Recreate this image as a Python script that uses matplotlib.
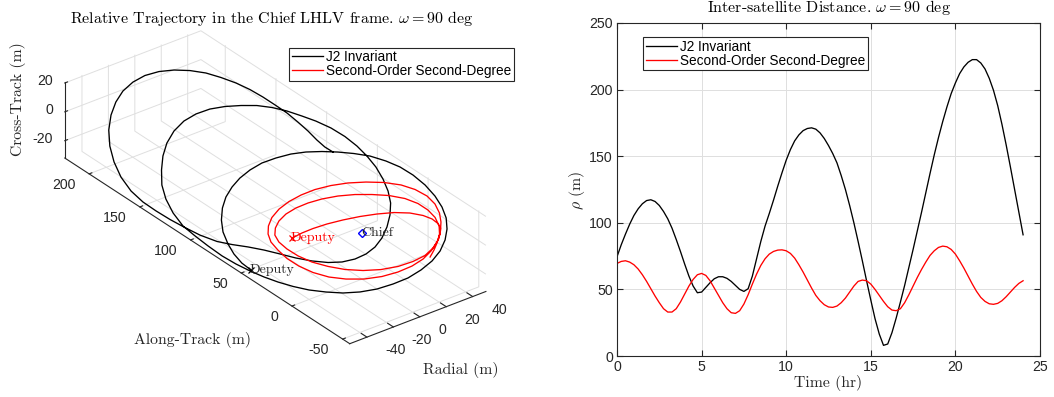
import numpy as np
import matplotlib
matplotlib.use("Agg")
import matplotlib.pyplot as plt
from mpl_toolkits.mplot3d import proj3d

# ---------------- data ----------------
# Relative trajectory (LVLH frame, metres): J2-invariant model
black_radial = [-48.6, -48.1, -46.3, -43.5, -39.4, -34.4, -28.5, -22.4, -15.9, -9.4,
                -2.6, 4.2, 10.8, 17.1, 22.6, 27.6, 32.2, 36.3, 40.0, 42.5,
                44.0, 44.2, 43.2, 41.1, 38.1, 34.3, 29.5, 23.8, 17.2, 10.2,
                2.7, -4.9, -12.2, -19.4, -25.9, -31.5, -36.1, -40.3, -43.5, -46.0,
                -47.9, -49.3, -50.3, -50.8, -50.4, -49.7, -48.7, -45.7, -41.4, -36.1,
                -29.3, -22.4, -15.2, -7.5, 0.1, 7.0, 13.5, 19.2, 24.5, 29.3,
                32.9, 35.8, 38.0, 39.9, 41.2, 41.5, 40.7, 39.1, 36.7, 33.3,
                29.3, 24.5, 18.8, 12.3, 5.7, -0.6, -6.5, -12.1, -17.4, -21.9,
                -26.0, -29.5, -32.4, -35.4, -38.8, -42.5, -45.6, -47.8, -48.9, -49.6,
                -49.9, -49.7, -48.2, -44.8, -39.9, -33.8, -26.7, -19.1, -11.6, -4.4,
                2.8, 9.4, 15.5, 20.7, 25.3, 29.0, 31.4, 33.4, 34.6, 35.0,
                35.0, 34.9, 34.0, 32.9, 31.4, 30.6, 30.7]
black_along = [46.2, 55.8, 65.9, 75.4, 85.7, 93.8, 100.5, 105.0, 107.4, 108.2,
               107.0, 104.2, 98.9, 92.4, 84.7, 75.5, 65.7, 55.3, 44.3, 31.8,
               19.8, 7.3, -5.9, -18.4, -29.2, -38.3, -45.4, -50.9, -54.6, -55.8,
               -54.7, -51.8, -46.6, -40.0, -31.8, -22.3, -11.6, -0.3, 11.2, 22.9,
               34.2, 46.1, 58.7, 71.7, 86.1, 99.8, 113.0, 126.7, 139.4, 150.3,
               159.5, 167.1, 172.6, 175.6, 175.7, 172.8, 167.6, 160.1, 151.2, 141.8,
               131.7, 120.7, 108.8, 97.5, 84.3, 70.9, 58.0, 46.1, 34.1, 22.7,
               12.5, 3.7, -3.1, -8.6, -12.2, -13.6, -12.4, -8.9, -3.0, 4.9,
               15.4, 26.7, 38.5, 50.5, 61.7, 72.8, 83.5, 97.5, 111.8, 124.6,
               138.0, 151.2, 164.9, 179.3, 192.5, 204.6, 214.9, 222.6, 227.6, 230.0,
               229.5, 226.3, 220.4, 212.4, 202.6, 191.7, 180.0, 167.7, 155.6, 143.3,
               131.3, 119.4, 107.5, 96.1, 85.4, 76.5, 68.6]
black_cross = [-29.7, -29.5, -28.5, -26.9, -24.7, -21.9, -18.7, -15.3, -11.7, -8.2,
               -4.4, -0.7, 2.9, 6.4, 9.4, 12.2, 14.7, 17.0, 19.0, 20.4,
               21.2, 21.3, 20.8, 19.6, 18.0, 15.9, 13.2, 10.1, 6.5, 2.6,
               -1.5, -5.7, -9.7, -13.7, -17.2, -20.3, -22.9, -25.2, -26.9, -28.3,
               -29.3, -30.1, -30.7, -30.9, -30.7, -30.3, -29.8, -28.1, -25.8, -22.9,
               -19.1, -15.3, -11.4, -7.1, -2.9, 0.9, 4.4, 7.6, 10.5, 13.1,
               15.1, 16.7, 17.9, 18.9, 19.7, 19.8, 19.4, 18.5, 17.2, 15.3,
               13.1, 10.5, 7.3, 3.8, 0.1, -3.3, -6.6, -9.7, -12.6, -15.0,
               -17.3, -19.2, -20.8, -22.5, -24.3, -26.4, -28.1, -29.3, -29.9, -30.3,
               -30.4, -30.3, -29.5, -27.6, -24.9, -21.6, -17.7, -13.5, -9.4, -5.4,
               -1.5, 2.2, 5.5, 8.4, 10.9, 12.9, 14.3, 15.4, 16.0, 16.3,
               16.3, 16.2, 15.7, 15.1, 14.3, 13.8, 13.9]

# Relative trajectory: second-order second-degree model
red_radial = [-21.6, -16.1, -10.7, -4.4, 2.3, 9.0, 15.3, 21.1, 25.7, 28.5,
              29.6, 29.3, 28.0, 25.1, 20.5, 14.5, 8.4, 1.8, -5.2, -12.1,
              -18.7, -24.1, -28.3, -31.0, -32.3, -32.4, -31.2, -29.6, -26.8, -23.0,
              -18.0, -11.9, -5.4, 1.2, 7.9, 14.6, 20.9, 26.8, 32.0, 36.0,
              38.1, 38.7, 37.4, 34.6, 30.9, 26.6, 22.3, 16.5, 10.6, 4.2,
              -2.6, -9.2, -15.0, -20.0, -23.7, -26.5, -27.9, -28.0, -27.2, -25.2,
              -21.8, -17.5, -12.1, -6.3, -0.4, 5.7, 11.9, 17.7, 22.8, 27.5,
              30.9, 32.5, 32.5, 31.2, 28.5, 24.9, 20.0, 15.9, 11.4]
red_along = [41.1, 38.3, 34.4, 28.8, 21.7, 13.7, 5.2, -4.0, -13.7, -23.1,
             -30.5, -36.7, -41.0, -44.3, -47.4, -49.2, -49.3, -47.0, -42.2, -35.4,
             -26.3, -15.6, -4.3, 7.9, 20.2, 31.7, 42.3, 51.2, 57.7, 62.3,
             65.4, 66.2, 64.9, 61.6, 56.8, 49.7, 41.1, 31.0, 20.0, 8.4,
             -2.7, -13.7, -23.2, -31.3, -37.6, -42.7, -46.5, -48.6, -48.3, -44.8,
             -39.0, -30.6, -20.6, -9.3, 2.5, 14.8, 26.6, 37.5, 46.5, 53.1,
             57.0, 59.1, 59.2, 56.9, 52.7, 46.9, 39.2, 30.0, 20.0, 9.2,
             -2.1, -12.8, -22.7, -31.4, -38.9, -44.0, -47.9, -50.3, -52.3]
red_cross = [-14.9, -11.9, -8.9, -5.4, -1.7, 2.0, 5.4, 8.6, 11.1, 12.7,
             13.3, 13.1, 12.4, 10.8, 8.3, 5.0, 1.6, -2.0, -5.9, -9.7,
             -13.3, -16.3, -18.6, -20.1, -20.8, -20.8, -20.2, -19.3, -17.7, -15.6,
             -12.9, -9.5, -6.0, -2.3, 1.3, 5.0, 8.5, 11.7, 14.6, 16.8,
             18.0, 18.3, 17.6, 16.0, 14.0, 11.6, 9.3, 6.1, 2.8, -0.7,
             -4.4, -8.1, -11.3, -14.0, -16.0, -17.6, -18.3, -18.4, -18.0, -16.9,
             -15.0, -12.6, -9.7, -6.5, -3.2, 0.1, 3.5, 6.7, 9.5, 12.1,
             14.0, 14.9, 14.9, 14.2, 12.7, 10.7, 8.0, 5.7, 3.3]

# Inter-satellite distance (hours, metres)
time_hr = [0, 0.25, 0.5, 0.75, 1, 1.25, 1.5, 1.75, 2, 2.25, 2.5, 2.75,
           3, 3.25, 3.5, 3.75, 4, 4.25, 4.5, 4.75, 5, 5.25, 5.5, 5.75,
           6, 6.25, 6.5, 6.75, 7, 7.25, 7.5, 7.75, 8, 8.25, 8.5, 8.75,
           9, 9.25, 9.5, 9.75, 10, 10.25, 10.5, 10.75, 11, 11.25, 11.5, 11.75,
           12, 12.25, 12.5, 12.75, 13, 13.25, 13.5, 13.75, 14, 14.25, 14.5, 14.75,
           15, 15.25, 15.5, 15.75, 16, 16.25, 16.5, 16.75, 17, 17.25, 17.5, 17.75,
           18, 18.25, 18.5, 18.75, 19, 19.25, 19.5, 19.75, 20, 20.25, 20.5, 20.75,
           21, 21.25, 21.5, 21.75, 22, 22.25, 22.5, 22.75, 23, 23.25, 23.5, 23.75,
           24]
rho_black = [74.5, 83.5, 91.5, 99, 105.5, 110.5, 114.3, 116.7, 117.3, 116, 113, 108.5,
             103, 96, 87.5, 78.5, 69, 60, 52.5, 47.5, 48, 51.5, 55, 58,
             59.5, 59.5, 58.3, 56, 53, 50, 48.5, 50.5, 60, 73, 86, 97.5,
             107, 117, 127.5, 137.5, 147, 155, 161.5, 166, 169.2, 170.8, 171.3, 170.3,
             167.5, 163.3, 158, 152, 145, 135.5, 125, 113, 100, 86, 71.5, 56.5,
             42, 28, 16.5, 8, 9, 17.5, 28.5, 40.5, 53, 66.5, 80, 94,
             108, 122.5, 137, 151, 164, 176, 187, 197, 205, 212, 217, 220.5,
             222.5, 222.5, 220, 215.5, 208.5, 199.5, 188, 174, 158.5, 142, 125, 108,
             91]
rho_red = [69.5, 71, 71.5, 70.5, 68.5, 65.3, 61, 56, 50.5, 45, 40, 35.5,
           33, 33, 35.5, 40.5, 46.5, 52.5, 57.5, 61, 62, 60.5, 56.5, 51,
           45.5, 40, 35.5, 32.5, 32, 34, 39, 46, 54, 61.5, 68, 73,
           76.5, 78.5, 79.5, 79.7, 79, 77, 73.5, 68.5, 63, 57, 51, 45.5,
           41.5, 38.5, 36.8, 36.5, 37.5, 40, 43.5, 48, 52.5, 56, 57, 56.5,
           54, 50, 45.5, 41, 37, 34.5, 34, 35.5, 40, 46, 52.5, 59,
           65, 70.5, 75.5, 79, 81.5, 82.5, 82, 80, 76.5, 71.5, 66, 60,
           54, 48.5, 44, 41, 39.2, 38.8, 39.5, 41.5, 44.5, 48, 51.5, 54.5,
           56.5]

radial_lim = (-53, 50)
along_lim = (-57, 224)
cross_lim = (-32, 21)
radial_ticks = [-40, -20, 0, 20, 40]
along_ticks = [-50, 0, 50, 100, 150, 200]
cross_ticks = [-20, 0, 20]
time_ticks = [0, 5, 10, 15, 20, 25]
rho_ticks = [0, 50, 100, 150, 200, 250]
legend_labels = ['J2 Invariant', 'Second-Order Second-Degree']

# ---------------- style ----------------
plt.rcParams['font.family'] = ['Liberation Sans', 'DejaVu Sans']
plt.rcParams['mathtext.fontset'] = 'cm'
plt.rcParams['axes.unicode_minus'] = False
plt.rcParams['grid.color'] = '#dfdfdf'
plt.rcParams['grid.linewidth'] = 0.7
try:
    plt.rcParams['axes3d.automargin'] = False
except KeyError:
    pass

W, H = 1054, 397
AXC = '#262626'
GRID = '#dfdfdf'
CM = ['cmr10', 'DejaVu Serif']
TICK_FS = 10.2
LEG_FS = 9.8
LAB_FS = 11.3
TTL_FS = 11.5
LW = 0.95

fig = plt.figure(figsize=(W / 100, H / 100), dpi=100)


def hide_empty_texts(a):
    for t in (a.title, a._left_title, a._right_title):
        t.set_visible(False)


# ---------------- left: 3-D trajectory ----------------
ax = fig.add_axes([0.0, 0.0, 0.5, 1.0], projection='3d', proj_type='ortho')
ax.set_facecolor('none')
ax.view_init(elev=30, azim=-127.5)
ax.set_xlim(radial_lim)
ax.set_ylim(along_lim)
ax.set_zlim(cross_lim)
ax.set_box_aspect((radial_lim[1] - radial_lim[0],
                   along_lim[1] - along_lim[0],
                   cross_lim[1] - cross_lim[0]))
ax.set_xticks(radial_ticks)
ax.set_yticks(along_ticks)
ax.set_zticks(cross_ticks)
ax.set_xticklabels([])
ax.set_yticklabels([])
ax.set_zticklabels([])
hide_empty_texts(ax)

for axis in (ax.xaxis, ax.yaxis, ax.zaxis):
    axis.set_pane_color((1, 1, 1, 0))
    axis.pane.set_edgecolor(GRID)
    axis.line.set_color(AXC)
    axis.line.set_linewidth(0.8)
    axis._axinfo['grid'].update({'color': GRID, 'linewidth': 0.7})
    axis._axinfo['tick']['inward_factor'] = 0.0
    axis._axinfo['tick']['outward_factor'] = 0.25
    axis.offsetText.set_visible(False)
    axis.label.set_visible(False)
ax.tick_params(colors=AXC, labelsize=TICK_FS)

l1, = ax.plot(black_radial, black_along, black_cross, color='black', lw=LW,
              label=legend_labels[0])
l2, = ax.plot(red_radial, red_along, red_cross, color='red', lw=LW,
              label=legend_labels[1])
ax.plot([black_radial[0]], [black_along[0]], [black_cross[0]], ls='none',
        marker='x', color='black', ms=5, mew=0.9)
ax.plot([red_radial[0]], [red_along[0]], [red_cross[0]], ls='none',
        marker='x', color='red', ms=5, mew=0.9)
ax.plot([0], [0], [0], ls='none', marker='D', mfc='none', mec='blue', ms=4.5,
        mew=1.0)


def to_disp(p):
    M = ax.get_proj()
    x2, y2, _ = proj3d.proj_transform(p[0], p[1], p[2], M)
    return np.array(ax.transData.transform((x2, y2)), dtype=float)


# place the 3-D box so that its projection lands where the reference has it
tgt_o = np.array([362.0, H - 233.0])
tgt_a = np.array([64.8, H - 158.0])
tgt_b = np.array([485.9, H - 291.5])
corner_a = (radial_lim[0], along_lim[1], cross_lim[0])
corner_b = (radial_lim[1], along_lim[0], cross_lim[0])
for _ in range(4):
    fig.canvas.draw()
    bb = ax.get_position()
    L = bb.width * W
    c = np.array([(bb.x0 + bb.width / 2) * W, (bb.y0 + bb.height / 2) * H])
    o, a, b = to_disp((0, 0, 0)), to_disp(corner_a), to_disp(corner_b)
    s = np.linalg.norm(tgt_a - tgt_b) / np.linalg.norm(a - b)
    Ln = L * s
    cn = tgt_o - s * (o - c)
    ax.set_position([(cn[0] - Ln / 2) / W, (cn[1] - Ln / 2) / H, Ln / W, Ln / H])
fig.canvas.draw()

# point labels (text starts at the projected point, like MATLAB text())
lab_kw = dict(family=CM, fontsize=10, ha='left', va='center')
for (px, py, pz), s_, col in [((black_radial[0], black_along[0], black_cross[0]), 'Deputy', AXC),
                              ((red_radial[0], red_along[0], red_cross[0]), 'Deputy', 'red'),
                              ((0, 0, 0), 'Chief', AXC)]:
    d = to_disp((px, py, pz))
    fig.text((d[0] - 1) / W, d[1] / H, s_, color=col, **lab_kw)

# tick labels of the 3-D axes, anchored to the projected tick positions
tick_kw = dict(fontsize=TICK_FS, color=AXC, va='center')
for v in radial_ticks:
    d = to_disp((v, along_lim[0], cross_lim[0]))
    fig.text((d[0] + 18.5) / W, (d[1] - 13.3) / H, str(v), ha='left', **tick_kw)
for v in along_ticks:
    d = to_disp((radial_lim[0], v, cross_lim[0]))
    fig.text((d[0] - 13.5) / W, (d[1] - 11.4) / H, str(v), ha='right', **tick_kw)
for v in cross_ticks:
    d = to_disp((radial_lim[0], along_lim[1], v))
    fig.text((d[0] - 11.7) / W, (d[1] + 1.8) / H, str(v), ha='right', **tick_kw)

leg_kw = dict(loc='upper left', bbox_transform=fig.transFigure,
              prop={'family': 'Liberation Sans', 'size': LEG_FS}, frameon=True,
              fancybox=False, framealpha=1, edgecolor=AXC, borderpad=0.2,
              labelspacing=0.0, handlelength=2.3, handletextpad=0.2,
              borderaxespad=0)
leg1 = ax.legend(handles=[l1, l2], bbox_to_anchor=(289 / W, 1 - 47.5 / H), **leg_kw)
leg1.get_frame().set_linewidth(0.8)
leg1.get_title().set_visible(False)

fig.text(272 / W, 1 - 18 / H,
         r'Relative Trajectory in the Chief LHLV frame. $\omega = 90$ deg',
         family=CM, fontsize=TTL_FS, ha='center', va='center', color='black')
fig.text(192 / W, 1 - 340 / H, 'Along-Track (m)', family=CM, fontsize=LAB_FS,
         ha='center', va='center', color=AXC)
fig.text(461 / W, 1 - 370 / H, 'Radial (m)', family=CM, fontsize=LAB_FS,
         ha='center', va='center', color=AXC)
fig.text(18 / W, 1 - 99 / H, 'Cross-Track (m)', family=CM, fontsize=LAB_FS,
         ha='center', va='center', rotation=90, color=AXC)

# ---------------- right: distance vs time ----------------
ax2 = fig.add_axes([617 / W, 1 - 356 / H, 423 / W, 333 / H])
r1, = ax2.plot(time_hr, rho_black, color='black', lw=LW, label=legend_labels[0])
r2, = ax2.plot(time_hr, rho_red, color='red', lw=LW, label=legend_labels[1])
ax2.set_xlim(time_ticks[0], time_ticks[-1])
ax2.set_ylim(rho_ticks[0], rho_ticks[-1])
ax2.set_xticks(time_ticks)
ax2.set_yticks(rho_ticks)
ax2.grid(True, color=GRID, lw=0.7)
ax2.set_axisbelow(True)
ax2.tick_params(direction='in', length=4, width=0.8, top=True, right=True,
                labelsize=TICK_FS, colors=AXC, pad=3)
for sp in ax2.spines.values():
    sp.set_color(AXC)
    sp.set_linewidth(0.8)
hide_empty_texts(ax2)
for axis in (ax2.xaxis, ax2.yaxis):
    axis.offsetText.set_visible(False)
    axis.label.set_visible(False)
leg2 = ax2.legend(handles=[r1, r2], bbox_to_anchor=(643 / W, 1 - 37 / H), **leg_kw)
leg2.get_frame().set_linewidth(0.8)
leg2.get_title().set_visible(False)

fig.text(829 / W, 1 - 7.5 / H, r'Inter-satellite Distance. $\omega = 90$ deg',
         family=CM, fontsize=TTL_FS, ha='center', va='center', color='black')
fig.text(828 / W, 1 - 383 / H, 'Time (hr)', family=CM, fontsize=LAB_FS,
         ha='center', va='center', color=AXC)
fig.text(577 / W, 1 - 190 / H, r'$\rho$ (m)', family=CM, fontsize=LAB_FS,
         ha='center', va='center', rotation=90, color=AXC)

fig.savefig('out.png', dpi=100)
